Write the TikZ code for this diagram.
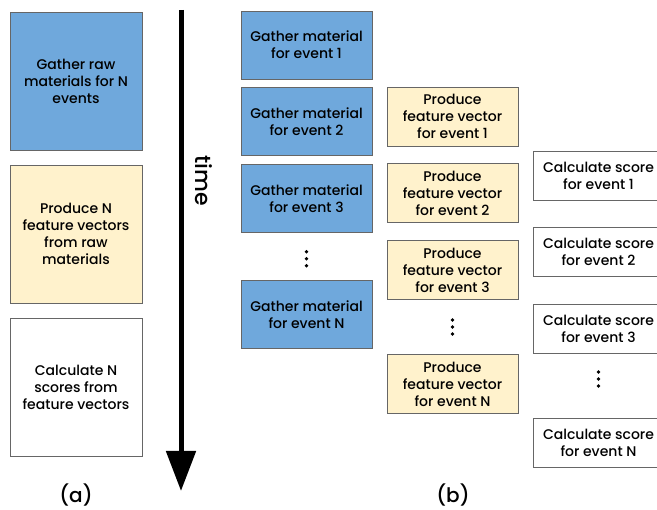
\documentclass[tikz,border=0pt]{standalone}
\usepackage{fontspec}
\setmainfont{Poppins}[UprightFont={* Medium}]
\usetikzlibrary{positioning, arrows.meta}
\definecolor{gatherblue}{HTML}{6FA8DC}
\definecolor{featyellow}{HTML}{FFF2CC}
\newcommand{\threedots}[1]{\foreach \d in {-7,0,7} \fill (#1) ++(0,\d) circle (1.9pt);}

\begin{document}
\begin{tikzpicture}[x=1pt, y=-1pt, node distance=8pt,
    box/.style={draw=black!60, line width=0.8pt, align=center, inner sep=0pt,
        font=\fontsize{14}{17}\selectfont},
    gather/.style={box, fill=gatherblue, minimum width=131pt, minimum height=68pt},
    feature/.style={box, fill=featyellow, minimum width=131pt, minimum height=59pt},
    score/.style={box, fill=white, minimum width=131pt, minimum height=49pt},
    bigbox/.style={box, minimum width=132pt, minimum height=138pt},
    caption/.style={font=\fontsize{20}{20}\selectfont}]
    \useasboundingbox (0,0) rectangle (657,510);
    \clip (0,0) rectangle (657,510);

    % (a) one stage after the other
    \node[bigbox, fill=gatherblue] (rawall) at (76,81.5) {Gather raw\\materials for N\\events};
    \node[bigbox, fill=featyellow, below=14pt of rawall] (featall) {Produce N\\feature vectors\\from raw\\materials};
    \node[bigbox, fill=white, below=14pt of featall] (scoreall) {Calculate N\\scores from\\feature vectors};

    % time axis
    \coordinate (tstart) at (181,10);
    \coordinate (tend) at (181,491);
    \draw[line width=5pt, -{Triangle[width=29pt, length=40pt]}] (tstart) -- (tend);
    \node[caption, font=\fontsize{22}{22}\selectfont, rotate=-90] (timelabel) at (204,181) {time};

    % (b) gather column
    \node[gather] (g1) at (306.5,45) {Gather material\\for event 1};
    \node[gather, below=of g1] (g2) {Gather material\\for event 2};
    \node[gather, below=of g2] (g3) {Gather material\\for event 3};
    \node[gather, below=47pt of g3] (gN) {Gather material\\for event N};
    \path (g3.south) -- coordinate[pos=0.55] (gdots) (gN.north);
    \threedots{gdots}

    % (b) feature column
    \node[feature] (p1) at (452.5,116.5) {Produce\\feature vector\\for event 1};
    \node[feature, below=17pt of p1] (p2) {Produce\\feature vector\\for event 2};
    \node[feature, below=17pt of p2] (p3) {Produce\\feature vector\\for event 3};
    \node[feature, below=54pt of p3] (pN) {Produce\\feature vector\\for event N};
    \path (p3.south) -- coordinate[pos=0.5] (pdots) (pN.north);
    \threedots{pdots}

    % (b) score column
    \node[score] (c1) at (598.5,175.5) {Calculate score\\for event 1};
    \node[score, below=27pt of c1] (c2) {Calculate score\\for event 2};
    \node[score, below=27pt of c2] (c3) {Calculate score\\for event 3};
    \node[score, below=64pt of c3] (cN) {Calculate score\\for event N};
    \path (c3.south) -- coordinate[pos=0.39] (cdots) (cN.north);
    \threedots{cdots}

    % captions
    \node[caption] (capa) at (76,495) {(a)};
    \node[caption] (capb) at (453,495) {(b)};
\end{tikzpicture}
\end{document}
